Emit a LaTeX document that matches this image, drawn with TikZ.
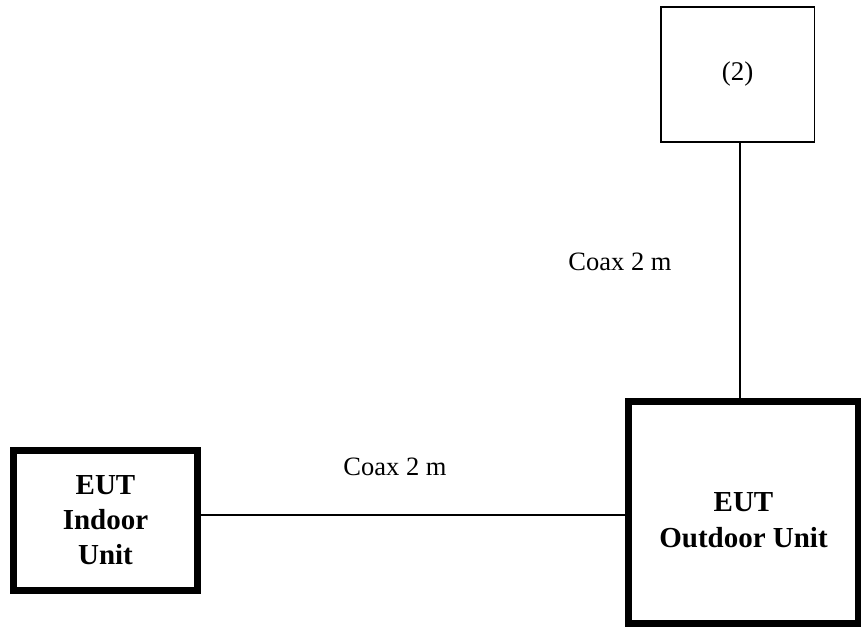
\documentclass[tikz,border=0pt]{standalone}
\usepackage{fontspec}
\setmainfont{Liberation Serif}
\usepackage{tikz}

\begin{document}
\begin{tikzpicture}[x=0.5pt,y=-0.5pt]
 \tikzstyle{unitbox} = [draw,line width=3.5pt,align=center,inner sep=0,font=\bfseries\fontsize{14.5}{17.5}\selectfont]
 \tikzstyle{unittext} = [align=center,inner sep=0,font=\bfseries\fontsize{14.5}{17.5}\selectfont]
 \tikzstyle{auxbox} = [draw,line width=0.75pt,inner sep=0,font=\fontsize{13.5}{16}\selectfont]
 \tikzstyle{cablelabel} = [font=\fontsize{13.25}{16}\selectfont]
 \useasboundingbox (0,0) rectangle (861,626);

 \node[unitbox,minimum width=92pt,minimum height=70pt] (indoor) at (105.5,520.5) {EUT\\Indoor\\Unit};
 \node[unitbox,minimum width=115pt,minimum height=111pt,
   label={[unittext,yshift=-4pt]center:EUT\\[0.5pt]Outdoor Unit}] (outdoor) at (743.5,512) {};
 \node[auxbox,minimum width=76.75pt,minimum height=67.5pt] (aux) at (737.5,74.5) {(2)};

 \coordinate (cable) at (0,515);
 \coordinate (feed) at (740,0);
 \draw[line width=0.75pt] (indoor.east |- cable) -- (outdoor.west |- cable);
 \draw[line width=0.75pt] (aux.south -| feed) -- (outdoor.north -| feed);

 \node[cablelabel] (coaxa) at (395,467) {Coax 2 m};
 \node[cablelabel] (coaxb) at (620,262) {Coax 2 m};
\end{tikzpicture}
\end{document}
